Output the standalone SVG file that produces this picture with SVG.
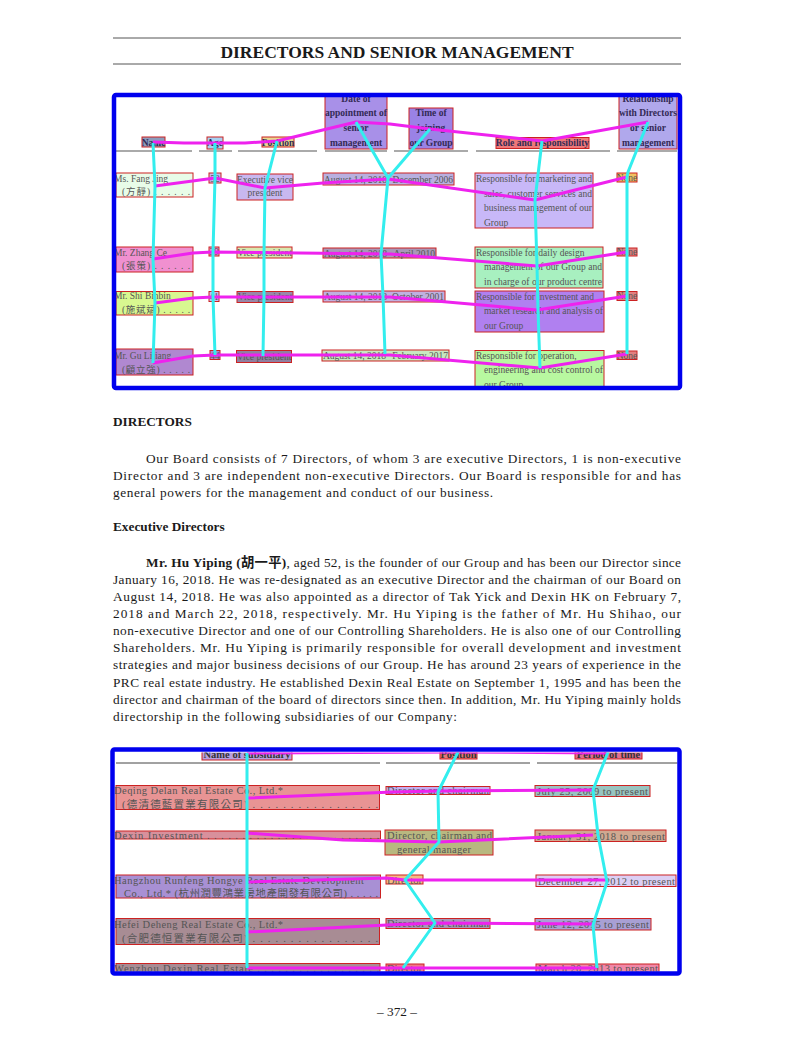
<svg xmlns="http://www.w3.org/2000/svg" width="794" height="1059" viewBox="0 0 794 1059">
<style>
.pg{fill:#ffffff}
.rule{stroke:#555;stroke-width:1}
.title{font-family:"Liberation Serif","Noto Sans CJK TC",serif;font-weight:bold;font-size:17.5px;fill:#1a1a1a}
.body{font-family:"Liberation Serif","Noto Sans CJK SC",serif;font-size:13.3px;fill:#1a1a1a}
.bh{font-family:"Liberation Serif",serif;font-weight:bold;font-size:13.3px;fill:#1a1a1a}
.bx{stroke:#c22;stroke-width:1}
.th{font-family:"Liberation Serif",serif;font-weight:bold;font-size:9.5px;fill:#332a55}
.td{font-family:"Liberation Serif","Noto Sans CJK TC",serif;font-size:9.5px;fill:#555}
.bth{font-family:"Liberation Serif",serif;font-weight:bold;font-size:10.5px;fill:#333}
.btd{font-family:"Liberation Serif","Noto Sans CJK TC",serif;font-size:10.5px;fill:#555}
.mg{fill:none;stroke:#ee22ee;stroke-width:3;stroke-linejoin:round}
.cy{fill:none;stroke:#33eeee;stroke-width:3;stroke-linejoin:round}
.frame{fill:none;stroke:#0000ee;stroke-width:4.5}
.dash{stroke:#aaa;stroke-width:2}
.hr{stroke:#444;stroke-width:1}
.c{text-anchor:middle}
</style>
<defs>
<clipPath id="clipTop"><rect x="116" y="97" width="562" height="289"/></clipPath>
<clipPath id="clipBot"><rect x="114.5" y="752.5" width="563" height="219"/></clipPath>
</defs>
<rect class="pg" x="0" y="0" width="794" height="1059"/>

<g id="header">
<line class="rule" x1="113" y1="38" x2="681" y2="38"/>
<text class="title c" x="397" y="58">DIRECTORS AND SENIOR MANAGEMENT</text>
<line class="rule" x1="113" y1="64" x2="681" y2="64"/>
</g>

<g id="top-table" clip-path="url(#clipTop)">
<g id="th-name"><rect class="bx" x="142" y="137" width="23" height="10" fill="#8c9cbc"/><text class="th c" x="153.5" y="146">Name</text></g>
<g id="th-age"><rect class="bx" x="207" y="137" width="16" height="12" fill="#a8d0f0"/><text class="th c" x="215" y="146">Age</text></g>
<g id="th-position"><rect class="bx" x="262" y="137" width="32" height="10" fill="#e8d890"/><text class="th c" x="278" y="146">Position</text></g>
<g id="th-date"><rect class="bx" x="325" y="88" width="62" height="61" fill="#a890e8"/>
<text class="th c" x="356" y="101.5">Date of</text><text class="th c" x="356" y="116">appointment of</text><text class="th c" x="356" y="131">senior</text><text class="th c" x="356" y="146">management</text></g>
<g id="th-time"><rect class="bx" x="409" y="108" width="44" height="41" fill="#9a82e6"/>
<text class="th c" x="431" y="116">Time of</text><text class="th c" x="431" y="131">joining</text><text class="th c" x="431" y="146">our Group</text></g>
<g id="th-role"><rect class="bx" x="496" y="137.5" width="93" height="11" fill="#f07878"/><text class="th c" x="542.5" y="146">Role and responsibility</text></g>
<g id="th-rel"><rect class="bx" x="619" y="88" width="58" height="61" fill="#b0a8ec"/>
<text class="th c" x="648" y="101.5">Relationship</text><text class="th c" x="648" y="116">with Directors</text><text class="th c" x="648" y="131">or senior</text><text class="th c" x="648" y="146">management</text></g>

<g id="th-rule">
<line class="dash" x1="116" y1="151" x2="192" y2="151"/>
<line class="dash" x1="199" y1="151" x2="232" y2="151"/>
<line class="dash" x1="238" y1="151" x2="317" y2="151"/>
<line class="dash" x1="325" y1="151" x2="387" y2="151"/>
<line class="dash" x1="394" y1="151" x2="468" y2="151"/>
<line class="dash" x1="476" y1="151" x2="610" y2="151"/>
<line class="dash" x1="617" y1="151" x2="677" y2="151"/>
</g>

<g id="r1-name"><rect class="bx" x="116" y="173" width="77" height="24" fill="#e8fce8"/><text class="td" x="114" y="182">Ms. Fang Jing</text><text class="td" x="122" y="195" textLength="68" lengthAdjust="spacing">(方靜) . . . . . .</text></g>
<g id="r1-age"><rect class="bx" x="209" y="173" width="12" height="10" fill="#c8b8f0"/><text class="td c" x="215" y="181.5" font-size="8">52</text></g>
<g id="r1-position"><rect class="bx" x="237" y="174" width="56" height="26" fill="#c8b8f0"/><text class="td c" x="265" y="182.5">Executive vice</text><text class="td c" x="265" y="196">president</text></g>
<g id="r1-date"><rect class="bx" x="323" y="173" width="131" height="12" fill="#b8b0e0"/><text class="td" x="324" y="182.5">August 14, 2018</text><text class="td" x="453" y="182.5" text-anchor="end">December 2006</text></g>
<g id="r1-role"><rect class="bx" x="475" y="173" width="118" height="55" fill="#c8b8f8"/>
<text class="td" x="476" y="182" textLength="116" lengthAdjust="spacing">Responsible for marketing and</text>
<text class="td" x="484" y="197" textLength="108" lengthAdjust="spacing">sales, customer services and</text>
<text class="td" x="484" y="211" textLength="108" lengthAdjust="spacing">business management of our</text>
<text class="td" x="484" y="226">Group</text></g>
<g id="r1-rel"><rect class="bx" x="617" y="173" width="20" height="9" fill="#f0c060"/><text class="td c" x="627" y="181" font-size="8.5">None</text></g>

<g id="r2-name"><rect class="bx" x="116" y="247" width="77" height="25" fill="#f090d0"/><text class="td" x="114" y="256">Mr. Zhang Ce</text><text class="td" x="122" y="269" textLength="68" lengthAdjust="spacing">(張策) . . . . . .</text></g>
<g id="r2-age"><rect class="bx" x="209" y="247" width="10" height="9" fill="#f090d0"/><text class="td c" x="214" y="255" font-size="8">39</text></g>
<g id="r2-position"><rect class="bx" x="237" y="247" width="55" height="11" fill="#d8e8b0"/><text class="td c" x="264.5" y="256">Vice president</text></g>
<g id="r2-date"><rect class="bx" x="323" y="248" width="113" height="10" fill="#a898b8"/><text class="td" x="324" y="256.5">August 14, 2018</text><text class="td" x="435" y="256.5" text-anchor="end">April 2010</text></g>
<g id="r2-role"><rect class="bx" x="475" y="247" width="128" height="41" fill="#a8f0c0"/>
<text class="td" x="476" y="255.5">Responsible for daily design</text>
<text class="td" x="484" y="269.5" textLength="118" lengthAdjust="spacing">management of our Group and</text>
<text class="td" x="484" y="285" textLength="118" lengthAdjust="spacing">in charge of our product centre</text></g>
<g id="r2-rel"><rect class="bx" x="617" y="248" width="20" height="8" fill="#e08080"/><text class="td c" x="627" y="255" font-size="8.5">None</text></g>

<g id="r3-name"><rect class="bx" x="116" y="291.5" width="77" height="23.5" fill="#d8f890"/><text class="td" x="114" y="299">Mr. Shi Binbin</text><text class="td" x="122" y="313" textLength="68" lengthAdjust="spacing">(施斌斌) . . . . .</text></g>
<g id="r3-age"><rect class="bx" x="209" y="291.5" width="10" height="10" fill="#c8b8f0"/><text class="td c" x="214" y="300" font-size="8">41</text></g>
<g id="r3-position"><rect class="bx" x="237" y="291.5" width="56" height="11" fill="#9888a8"/><text class="td c" x="265" y="300">Vice president</text></g>
<g id="r3-date"><rect class="bx" x="323" y="291" width="122" height="11" fill="#c0b0e0"/><text class="td" x="324" y="300">August 14, 2018</text><text class="td" x="444" y="300" text-anchor="end">October 2001</text></g>
<g id="r3-role"><rect class="bx" x="475" y="291" width="129" height="41" fill="#b080f0"/>
<text class="td" x="476" y="299.5" textLength="118" lengthAdjust="spacing">Responsible for investment and</text>
<text class="td" x="484" y="314" textLength="119" lengthAdjust="spacing">market research and analysis of</text>
<text class="td" x="484" y="328.5">our Group</text></g>
<g id="r3-rel"><rect class="bx" x="617" y="291.5" width="20" height="9" fill="#e08080"/><text class="td c" x="627" y="299" font-size="8.5">None</text></g>

<g id="r4-name"><rect class="bx" x="116" y="349" width="77" height="26" fill="#b088d0"/><text class="td" x="114" y="359">Mr. Gu Lijiang</text><text class="td" x="122" y="373" textLength="68" lengthAdjust="spacing">(顧立強) . . . . .</text></g>
<g id="r4-age"><rect class="bx" x="210" y="350.5" width="10" height="9" fill="#b088d0"/><text class="td c" x="215" y="358.5" font-size="8">44</text></g>
<g id="r4-position"><rect class="bx" x="236.5" y="350.5" width="55" height="12" fill="#9080a0"/><text class="td c" x="264" y="359.5">Vice president</text></g>
<g id="r4-date"><rect class="bx" x="322" y="350" width="127" height="11" fill="#c8e8c0"/><text class="td" x="323" y="359">August 14, 2018</text><text class="td" x="448" y="359" text-anchor="end">February 2017</text></g>
<g id="r4-role"><rect class="bx" x="475" y="350.5" width="129" height="40" fill="#b8f8a0"/>
<text class="td" x="476" y="359">Responsible for operation,</text>
<text class="td" x="484" y="373" textLength="119" lengthAdjust="spacing">engineering and cost control of</text>
<text class="td" x="484" y="388">our Group</text></g>
<g id="r4-rel"><rect class="bx" x="617" y="351" width="20" height="8.5" fill="#e08080"/><text class="td c" x="627" y="358.5" font-size="8.5">None</text></g>

<g id="top-connectors">
<polyline class="mg" points="153,142 184,143 215,143 245,143 277,141 356,122 390,124 430,129 542,141 648,122"/>
<polyline class="mg" points="155,186 215,178 265,188 323,183 388,179 535,200 627,177"/>
<polyline class="mg" points="153,259 193,253 213,252 390,254 537,266 627,252"/>
<polyline class="mg" points="155,303 193,298 213,297 390,297 537,310 627,296"/>
<polyline class="mg" points="153,363 193,356 215,355 390,355 540,368 627,354"/>
<polyline class="cy" points="153,143 155,186 153,259 155,303 153,363"/>
<polyline class="cy" points="215,143 215,178 213,252 213,297 215,355"/>
<polyline class="cy" points="277,141 265,188 264,253 264,296 263,356"/>
<polyline class="cy" points="356,122 388,178 381,254 383,296 385,354"/>
<polyline class="cy" points="430,129 388,178"/>
<polyline class="cy" points="542,141 535,200 537,266 538,310 540,368"/>
<polyline class="cy" points="648,122 628,172 627,177 627,252 627,296 627,354"/>
</g>
</g>
<rect id="top-frame" class="frame" x="114" y="95" width="566" height="293" rx="2"/>

<g id="text-directors">
<text class="bh" x="113" y="426">DIRECTORS</text>
<text class="body" x="146" y="463" textLength="535" lengthAdjust="spacing">Our Board consists of 7 Directors, of whom 3 are executive Directors, 1 is non-executive</text>
<text class="body" x="113" y="480" textLength="568" lengthAdjust="spacing">Director and 3 are independent non-executive Directors. Our Board is responsible for and has</text>
<text class="body" x="113" y="497" textLength="380" lengthAdjust="spacing">general powers for the management and conduct of our business.</text>
</g>

<g id="text-executive">
<text class="bh" x="113" y="531">Executive Directors</text>
<text class="body" x="146" y="567" textLength="535" lengthAdjust="spacing"><tspan font-weight="bold">Mr. Hu Yiping (胡一平)</tspan>, aged 52, is the founder of our Group and has been our Director since</text>
<text class="body" x="113" y="584" textLength="568" lengthAdjust="spacing">January 16, 2018. He was re-designated as an executive Director and the chairman of our Board on</text>
<text class="body" x="113" y="601" textLength="568" lengthAdjust="spacing">August 14, 2018. He was also appointed as a director of Tak Yick and Dexin HK on February 7,</text>
<text class="body" x="113" y="618" textLength="568" lengthAdjust="spacing">2018 and March 22, 2018, respectively. Mr. Hu Yiping is the father of Mr. Hu Shihao, our</text>
<text class="body" x="113" y="635" textLength="568" lengthAdjust="spacing">non-executive Director and one of our Controlling Shareholders. He is also one of our Controlling</text>
<text class="body" x="113" y="652" textLength="568" lengthAdjust="spacing">Shareholders. Mr. Hu Yiping is primarily responsible for overall development and investment</text>
<text class="body" x="113" y="669" textLength="568" lengthAdjust="spacing">strategies and major business decisions of our Group. He has around 23 years of experience in the</text>
<text class="body" x="113" y="687" textLength="568" lengthAdjust="spacing">PRC real estate industry. He established Dexin Real Estate on September 1, 1995 and has been the</text>
<text class="body" x="113" y="704" textLength="568" lengthAdjust="spacing">director and chairman of the board of directors since then. In addition, Mr. Hu Yiping mainly holds</text>
<text class="body" x="113" y="721" textLength="344" lengthAdjust="spacing">directorship in the following subsidiaries of our Company:</text>
</g>

<g id="bottom-table" clip-path="url(#clipBot)">
<g id="bh-name"><rect class="bx" x="202" y="748" width="90" height="12" fill="#b8a0e0"/><text class="bth c" x="247" y="757.5">Name of subsidiary</text></g>
<g id="bh-position"><rect class="bx" x="440" y="748" width="37" height="11" fill="#e87878"/><text class="bth c" x="458.5" y="757.5">Position</text></g>
<g id="bh-period"><rect class="bx" x="575" y="748" width="67" height="11" fill="#e07090"/><text class="bth c" x="608.5" y="757.5">Period of time</text></g>
<g id="bh-rule">
<line class="hr" x1="116" y1="763" x2="380" y2="763"/>
<line class="hr" x1="386" y1="763" x2="530" y2="763"/>
<line class="hr" x1="537" y1="763" x2="679" y2="763"/>
</g>

<g id="b1-name"><rect class="bx" x="116" y="785.5" width="263.5" height="24" fill="#e89494"/><text class="btd" x="114" y="794" textLength="169" lengthAdjust="spacing">Deqing Delan Real Estate Co., Ltd.*</text><text class="btd" x="122" y="808" textLength="256" lengthAdjust="spacing">(德清德藍置業有限公司) . . . . . . . . . . . . . . . . .</text></g>
<g id="b1-position"><rect class="bx" x="386" y="786.5" width="104" height="8" fill="#c4aef0"/><text class="btd" x="387" y="794" textLength="102" lengthAdjust="spacing">Director and chairman</text></g>
<g id="b1-period"><rect class="bx" x="535" y="785.5" width="115" height="11" fill="#98c4c0"/><text class="btd" x="537" y="795" textLength="111" lengthAdjust="spacing">July 25, 2009 to present</text></g>

<g id="b2-name"><rect class="bx" x="116" y="831" width="264.5" height="8" fill="#d8909c"/><text class="btd" x="114" y="838.5" textLength="265" lengthAdjust="spacing">Dexin Investment . . . . . . . . . . . . . . . . . . . . . . . . .</text></g>
<g id="b2-position"><rect class="bx" x="385" y="830" width="108" height="25" fill="#b8b880"/><text class="btd" x="387" y="839" textLength="105" lengthAdjust="spacing">Director, chairman and</text><text class="btd" x="397" y="853" textLength="74" lengthAdjust="spacing">general manager</text></g>
<g id="b2-period"><rect class="bx" x="535" y="830" width="131" height="11.5" fill="#d0a890"/><text class="btd" x="537" y="839.5" textLength="128" lengthAdjust="spacing">January 31, 2018 to present</text></g>

<g id="b3-name"><rect class="bx" x="116" y="875" width="264.5" height="23" fill="#a890d4"/><text class="btd" x="114" y="883.5" textLength="250" lengthAdjust="spacing">Hangzhou Runfeng Hongye Real Estate Development</text><text class="btd" x="124" y="896.5" textLength="254" lengthAdjust="spacing">Co., Ltd.* (杭州潤豐鴻業房地產開發有限公司) . . . . .</text></g>
<g id="b3-position"><rect class="bx" x="386" y="875" width="37" height="9" fill="#f4bc84"/><text class="btd" x="387" y="883.5" textLength="35" lengthAdjust="spacing">Director</text></g>
<g id="b3-period"><rect class="bx" x="536" y="875" width="140" height="11.5" fill="#dccff4"/><text class="btd" x="538" y="884.5" textLength="137" lengthAdjust="spacing">December 27, 2012 to present</text></g>

<g id="b4-name"><rect class="bx" x="116" y="918.5" width="263.5" height="26" fill="#a88c94"/><text class="btd" x="114" y="927.5" textLength="169" lengthAdjust="spacing">Hefei Deheng Real Estate Co., Ltd.*</text><text class="btd" x="122" y="941.5" textLength="256" lengthAdjust="spacing">(合肥德恒置業有限公司) . . . . . . . . . . . . . . . . .</text></g>
<g id="b4-position"><rect class="bx" x="386" y="918.5" width="104" height="10" fill="#a898b8"/><text class="btd" x="387" y="927" textLength="102" lengthAdjust="spacing">Director and chairman</text></g>
<g id="b4-period"><rect class="bx" x="535" y="918.5" width="116" height="11.5" fill="#a8a0d4"/><text class="btd" x="537" y="928" textLength="112" lengthAdjust="spacing">June 12, 2015 to present</text></g>

<g id="b5-name"><rect class="bx" x="116" y="963.5" width="264" height="9" fill="#a88c94"/><text class="btd" x="114" y="971.5" textLength="265" lengthAdjust="spacing">Wenzhou Dexin Real Estate . . . . . . . . . . . . . . . . . .</text></g>
<g id="b5-position"><rect class="bx" x="386" y="964" width="38" height="9" fill="#f07888"/><text class="btd" x="387" y="972" textLength="35" lengthAdjust="spacing">Director</text></g>
<g id="b5-period"><rect class="bx" x="536" y="964" width="123" height="9" fill="#f088a8"/><text class="btd" x="538" y="972" textLength="120" lengthAdjust="spacing">March 20, 2013 to present</text></g>

<g id="bottom-connectors">
<polyline class="mg" points="247,753 457,752 607,753"/>
<polyline class="mg" points="247,798 393,792 438,791 593,790"/>
<polyline class="mg" points="247,833 343,840 439,842 593,835"/>
<polyline class="mg" points="247,882 387,878 405,880 607,880"/>
<polyline class="mg" points="247,932 387,925 435,923 593,924"/>
<polyline class="mg" points="247,968 403,968 597,968"/>
<polyline class="cy" points="247,753 247,968"/>
<polyline class="cy" points="458,752 438,792 439,842 405,880 435,923 403,968"/>
<polyline class="cy" points="608,752 593,790 598,835 607,882 593,925 597,968"/>
</g>
</g>
<rect id="bottom-frame" class="frame" x="112.5" y="749.5" width="567" height="224" rx="2"/>

<g id="footer">
<text class="body c" x="397" y="1016" font-size="12">– 372 –</text>
</g>
</svg>
